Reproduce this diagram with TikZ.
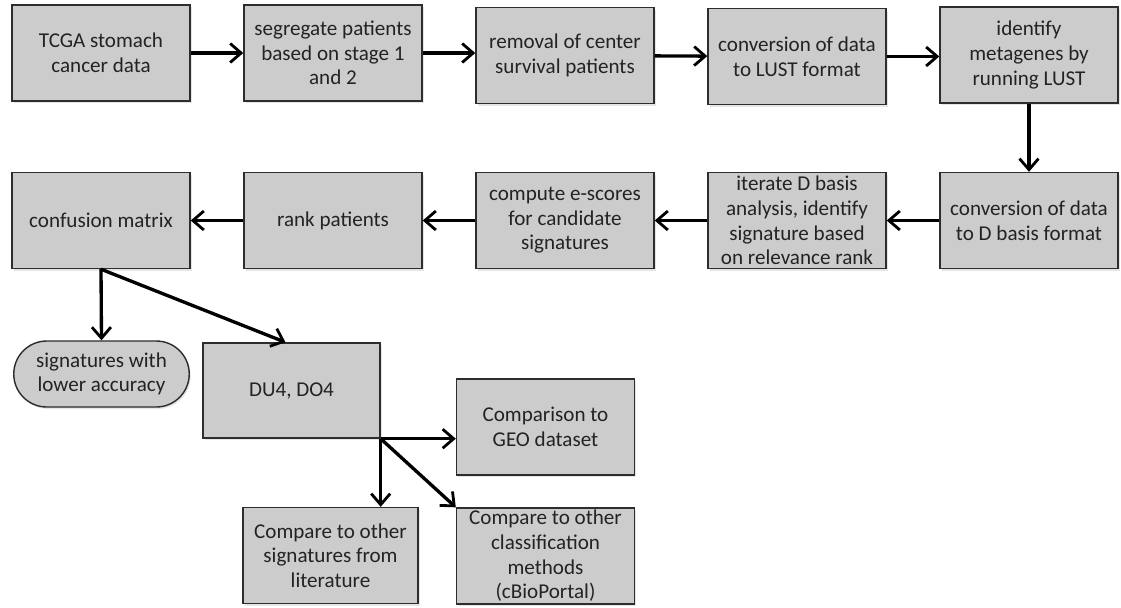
\documentclass[tikz,border=0pt]{standalone}
\usepackage{fontspec}
\setmainfont{Carlito}
\usepackage{xcolor}
\usetikzlibrary{arrows.meta,calc,positioning,shapes.misc,shadows}
\definecolor{boxgray}{RGB}{204,204,204}
\definecolor{edgegray}{RGB}{45,45,45}
\definecolor{txtgray}{RGB}{35,35,35}

\begin{document}
\begin{tikzpicture}[
  st/.style={draw=edgegray,fill=boxgray,line width=0.8pt,minimum width=3.56cm,minimum height=1.92cm,
    inner xsep=1pt,inner ysep=0pt,font=\fontsize{12}{14}\selectfont,text=txtgray,align=center,
    drop shadow={opacity=0.2,shadow xshift=0.03cm,shadow yshift=-0.04cm}},
  pill/.style={st,rounded rectangle,minimum width=3.58cm,minimum height=1.32cm},
  ar/.style={-{Straight Barb[length=2.2mm,width=3.8mm,line width=1.6pt]},line width=1.9pt}]
\useasboundingbox (0,0) rectangle (22.42,-12.14);
% first row
\node[st] (tcga) at (2.02,-1.06) {TCGA stomach\\cancer data};
\node[st] (segr) at (6.66,-1.06) {segregate patients\\based on stage 1\\and 2};
\node[st] (remov) at (11.30,-1.11) {removal of center\\survival patients};
\node[st] (lust) at (15.94,-1.13) {conversion of data\\to LUST format};
\node[st] (meta) at (20.58,-1.10) {identify\\metagenes by\\running LUST};
% second row
\node[st] (dbasis) at (20.58,-4.41) {conversion of data\\to D basis format};
\node[st] (iter) at (15.94,-4.41) {iterate D basis\\analysis, identify\\signature based\\on relevance rank};
\node[st] (escore) at (11.30,-4.41) {compute e-scores\\for candidate\\signatures};
\node[st] (rank) at (6.66,-4.41) {rank patients};
\node[st] (confm) at (2.02,-4.41) {confusion matrix};
% results
\node[pill] (lowacc) at (2.03,-7.48) {signatures with\\lower accuracy};
\node[st,minimum width=3.54cm,minimum height=1.9cm] (duo) at (5.83,-7.81) {DU4, DO4};
\node[st] (geo) at (10.91,-8.54) {Comparison to\\GEO dataset};
\node[st,minimum width=3.5cm] (lit) at (6.61,-11.11) {Compare to other\\signatures from\\literature};
\node[st] (cls) at (10.91,-11.12) {Compare to other\\classification\\methods\\(cBioPortal)};
\draw[ar] (tcga) -- (segr);
\draw[ar] (segr) -- (remov.west |- segr);
\draw[ar] (remov) -- (lust);
\draw[ar] (lust) -- (meta.west |- lust);
\draw[ar] (meta) -- (dbasis);
\draw[ar] (dbasis) -- (iter);
\draw[ar] (iter) -- (escore);
\draw[ar] (escore) -- (rank);
\draw[ar] (rank) -- (confm);
\draw[ar] (confm.south) -- (lowacc.north);
\draw[ar] (confm.south) -- ($(duo.north)+(-0.12,0)$);
\draw[ar] (duo.south east) -- (duo.south east -| geo.west);
\draw[ar] (duo.south east) -- (duo.south east |- lit.north);
\draw[ar] (duo.south east) -- (cls.north west);
\end{tikzpicture}
\end{document}
